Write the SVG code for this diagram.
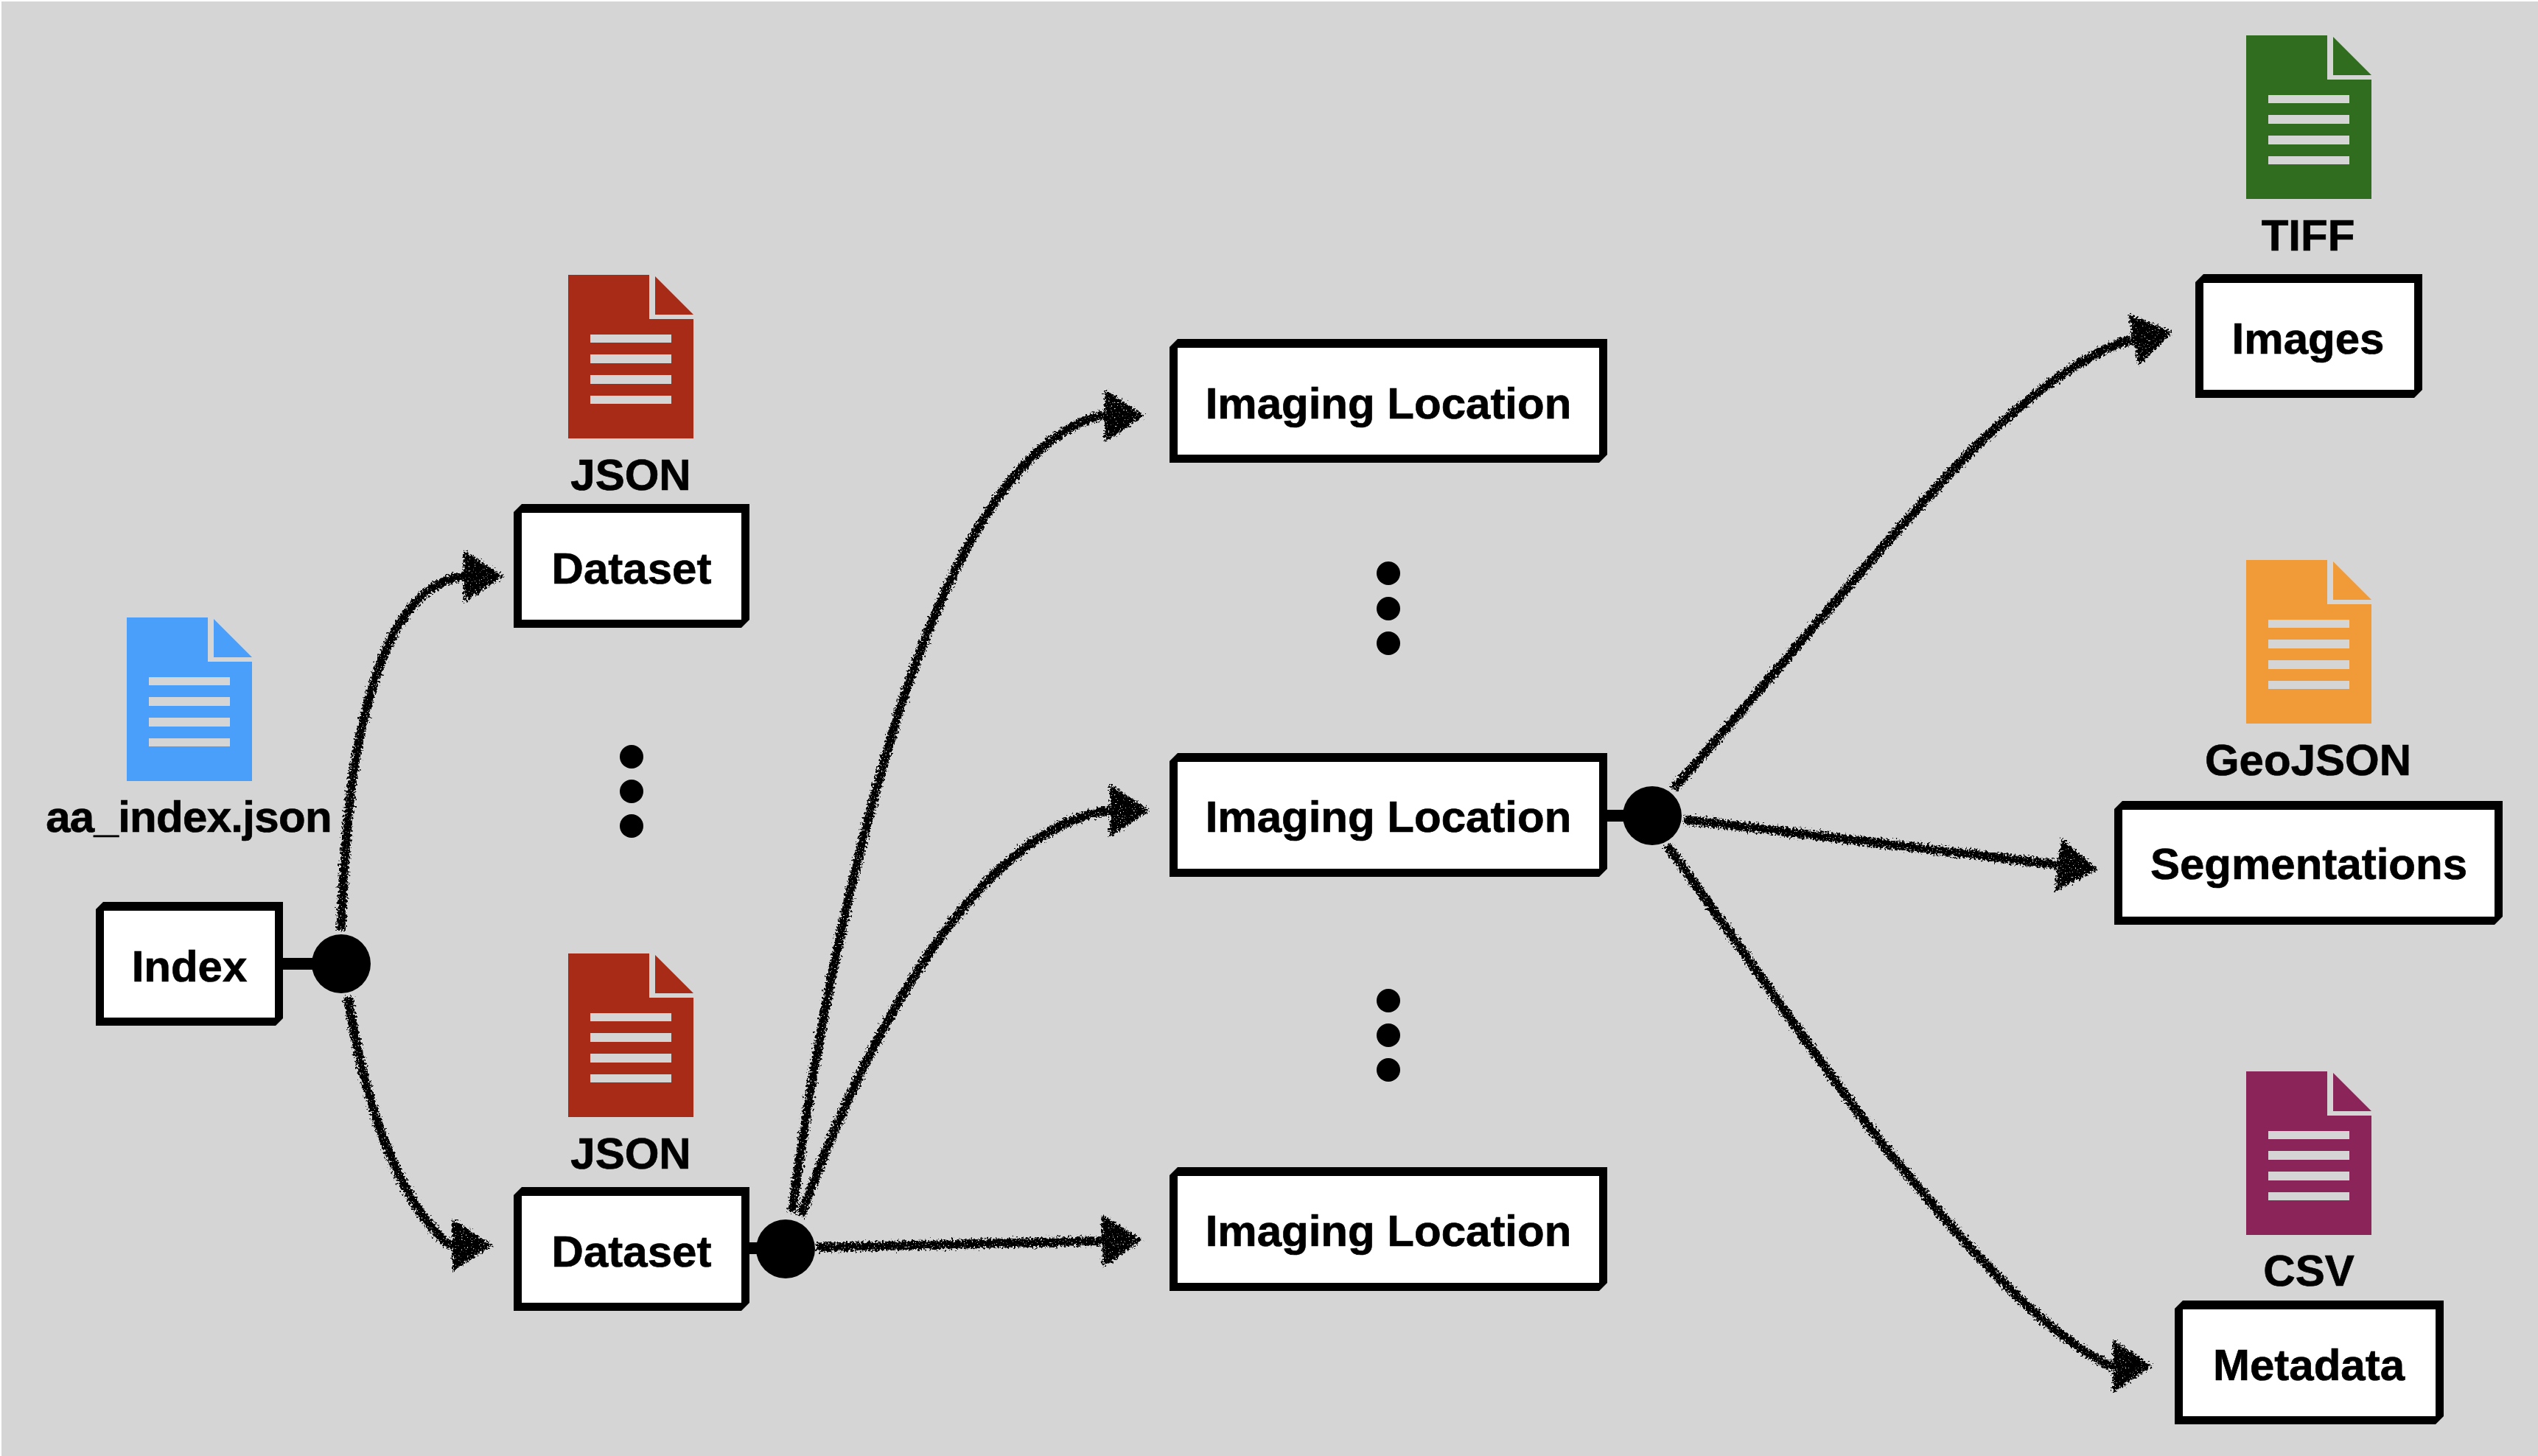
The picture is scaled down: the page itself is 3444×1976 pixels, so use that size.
<svg xmlns="http://www.w3.org/2000/svg" width="3444" height="1976" viewBox="0 0 3444 1976">
<style>
text{font-family:"Liberation Sans",Arial,Helvetica,sans-serif;font-weight:700;font-size:60px;fill:#000;stroke:#000;stroke-width:.7px;text-anchor:middle}
.out{fill:#000}.in{fill:#fff}.dot{fill:#000}
.arrow{fill:none;stroke:#000;stroke-width:12;marker-end:url(#head)}
.stub{fill:none;stroke:#000;stroke-width:16}
</style>
<defs>
<filter id="rough" filterUnits="userSpaceOnUse" x="0" y="0" width="3444" height="1976" color-interpolation-filters="sRGB">
<feTurbulence type="fractalNoise" baseFrequency="0.33" numOctaves="2" seed="7" result="n"/>
<feDisplacementMap in="SourceGraphic" in2="n" scale="13" xChannelSelector="R" yChannelSelector="G" result="d"/>
<feTurbulence type="fractalNoise" baseFrequency="0.5" numOctaves="2" seed="21"/>
<feColorMatrix type="matrix" values="0 0 0 0 0 0 0 0 0 0 0 0 0 0 0 14 0 0 0 -3.6" result="m"/>
<feComposite in="d" in2="m" operator="in"/>
</filter>
<marker id="head" markerUnits="userSpaceOnUse" markerWidth="70" markerHeight="90" refX="2" refY="40" orient="auto" overflow="visible">
<path d="M0,4 L54,40 L0,76 Z" fill="#000"/>
</marker>
<g id="doc">
<path d="M0,0 H110 V60 H170 V222 H0 Z" fill="currentColor"/>
<path d="M118,2 L170,54 H118 Z" fill="currentColor"/>
<path d="M30,81 H140 V92 H30 Z M30,108 H140 V120 H30 Z M30,136 H140 V148 H30 Z M30,164 H140 V175 H30 Z" fill="#d5d5d5"/>
</g>
</defs>
<rect width="3444" height="1976" fill="#fff"/>
<rect x="2" y="2" width="3442" height="1974" fill="#d5d5d5"/>

<g id="connectors">
<g filter="url(#rough)">
<path class="arrow" d="M463,1263 C468,1110 480,980 527,874 C555,815 590,790 622,783 Q627,782 631,782"/>
<path class="arrow" d="M472,1352 C488,1455 525,1610 605,1686 Q611,1690 616,1690"/>
<path class="arrow" d="M1075,1645 C1105,1420 1150,1190 1221,962 C1285,770 1370,600 1490,565 Q1496,564 1501,564"/>
<path class="arrow" d="M1087,1650 C1180,1390 1330,1130 1498,1101 Q1503,1100 1508,1100"/>
<path class="arrow" d="M1108,1693 L1498,1684"/>
<path class="arrow" d="M2271,1070 C2410,915 2545,745 2677,610 C2750,540 2820,485 2885,463 Q2891,462 2897,460.8"/>
<path class="arrow" d="M2285,1112 L2795,1174"/>
<path class="arrow" d="M2262,1147 C2370,1295 2480,1460 2562,1562 C2660,1680 2760,1800 2858,1851 Q2864,1854 2869,1854"/>
</g>
<path class="stub" d="M384,1308 H440 M1015,1694 H1040 M2180,1107 H2215"/>
</g>

<g id="hub-index"><circle class="dot" cx="463" cy="1308" r="40"/></g>
<g id="hub-dataset"><circle class="dot" cx="1066" cy="1695" r="40"/></g>
<g id="hub-location"><circle class="dot" cx="2242" cy="1107" r="40"/></g>

<g id="file-index"><use href="#doc" x="172" y="838" color="#4a9ffa"/><text x="256" y="1129" letter-spacing="-.7">aa_index.json</text></g>
<g id="node-index"><path class="out" d="M140,1224 H384 V1382 L374,1392 H130 V1234 Z"/><rect class="in" x="141" y="1236" width="232" height="145"/><text x="257" y="1332">Index</text></g>

<g id="file-dataset-1"><use href="#doc" x="771" y="373" color="#a82b17"/><text x="856" y="665">JSON</text></g>
<g id="node-dataset-1"><path class="out" d="M708,684 H1017 V841 L1006,852 H697 V695 Z"/><rect class="in" x="708" y="696" width="298" height="145"/><text x="857" y="792">Dataset</text></g>

<g id="ellipsis-1"><circle class="dot" cx="857" cy="1027" r="16"/><circle class="dot" cx="857" cy="1074" r="16"/><circle class="dot" cx="857" cy="1121" r="16"/></g>

<g id="file-dataset-2"><use href="#doc" x="771" y="1294" color="#a82b17"/><text x="856" y="1586">JSON</text></g>
<g id="node-dataset-2"><path class="out" d="M708,1611 H1017 V1768 L1006,1779 H697 V1622 Z"/><rect class="in" x="708" y="1623" width="298" height="145"/><text x="857" y="1719">Dataset</text></g>

<g id="node-location-1"><path class="out" d="M1598,460 H2181 V617 L2170,628 H1587 V471 Z"/><rect class="in" x="1598" y="472" width="572" height="145"/><text x="1884" y="568">Imaging Location</text></g>
<g id="ellipsis-2"><circle class="dot" cx="1884" cy="778" r="16"/><circle class="dot" cx="1884" cy="826" r="16"/><circle class="dot" cx="1884" cy="873" r="16"/></g>
<g id="node-location-2"><path class="out" d="M1598,1022 H2181 V1179 L2170,1190 H1587 V1033 Z"/><rect class="in" x="1598" y="1034" width="572" height="145"/><text x="1884" y="1129">Imaging Location</text></g>
<g id="ellipsis-3"><circle class="dot" cx="1884" cy="1358" r="16"/><circle class="dot" cx="1884" cy="1405" r="16"/><circle class="dot" cx="1884" cy="1452" r="16"/></g>
<g id="node-location-3"><path class="out" d="M1598,1584 H2181 V1741 L2170,1752 H1587 V1595 Z"/><rect class="in" x="1598" y="1596" width="572" height="145"/><text x="1884" y="1691">Imaging Location</text></g>

<g id="file-images"><use href="#doc" x="3048" y="48" color="#306d1f"/><text x="3132" y="340">TIFF</text></g>
<g id="node-images"><path class="out" d="M2990,372 H3287 V529 L3276,540 H2979 V383 Z"/><rect class="in" x="2990" y="384" width="286" height="145"/><text x="3132" y="480">Images</text></g>

<g id="file-segmentations"><use href="#doc" x="3048" y="760" color="#f19b38"/><text x="3132" y="1052">GeoJSON</text></g>
<g id="node-segmentations"><path class="out" d="M2880,1087 H3396 V1244 L3385,1255 H2869 V1098 Z"/><rect class="in" x="2880" y="1099" width="505" height="145"/><text x="3133" y="1193">Segmentations</text></g>

<g id="file-metadata"><use href="#doc" x="3048" y="1454" color="#8a2459"/><text x="3133" y="1745">CSV</text></g>
<g id="node-metadata"><path class="out" d="M2962,1765 H3316 V1922 L3305,1933 H2951 V1776 Z"/><rect class="in" x="2962" y="1777" width="343" height="145"/><text x="3133" y="1873">Metadata</text></g>
</svg>
